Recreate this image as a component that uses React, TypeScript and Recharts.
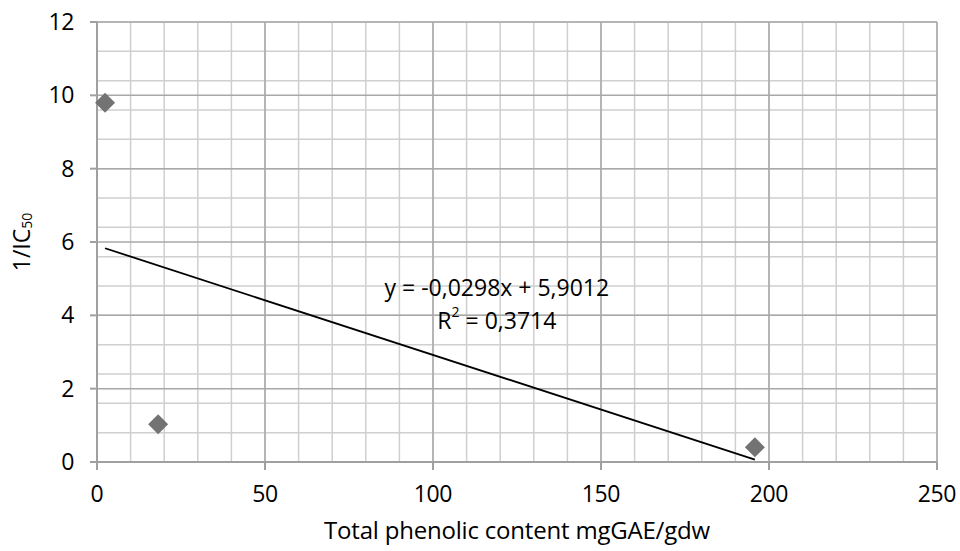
import React from 'react';
import { ScatterChart, Scatter, XAxis, YAxis, CartesianGrid, ReferenceDot, Label } from 'recharts';

const phenolic = [2.4, 18.2, 195.8];
const inverseIC50 = [9.8, 1.03, 0.4];
const xTicks = [0, 50, 100, 150, 200, 250];
const yTicks = [0, 2, 4, 6, 8, 10, 12];
const xMinor = [0, 10, 20, 30, 40, 50, 60, 70, 80, 90, 100, 110, 120, 130, 140, 150, 160, 170, 180, 190, 200, 210, 220, 230, 240, 250];
const yMinor = [0, 0.4, 0.8, 1.2, 1.6, 2, 2.4, 2.8, 3.2, 3.6, 4, 4.4, 4.8, 5.2, 5.6, 6, 6.4, 6.8, 7.2, 7.6, 8, 8.4, 8.8, 9.2, 9.6, 10, 10.4, 10.8, 11.2, 11.6, 12];
const slope = -0.0298;
const intercept = 5.9012;
const equationText = 'y = -0,0298x + 5,9012';
const r2Value = '0,3714';
const labelAnchor = { x: 119, y: 4.35 };

const points = phenolic.map((x, i) => ({ x, y: inverseIC50[i] }));
const xMin = Math.min(...phenolic);
const xMax = Math.max(...phenolic);
const trend = [
  { x: xMin, y: slope * xMin + intercept },
  { x: xMax, y: slope * xMax + intercept },
];

const FONT = '"Open Sans", "Noto Sans", sans-serif';

const Diamond = (props: any) => {
  const { cx, cy } = props;
  const r = 10;
  return <polygon points={`${cx},${cy - r} ${cx + r},${cy} ${cx},${cy + r} ${cx - r},${cy}`} fill="#737373" />;
};

const EqLabel = (props: any) => {
  const vb = props.viewBox || {};
  const cx = vb.cx !== undefined ? vb.cx : vb.x + (vb.width || 0) / 2;
  const cy = vb.cy !== undefined ? vb.cy : vb.y + (vb.height || 0) / 2;
  return (
    <g fontFamily={FONT} fontSize={23} fill="#000">
      <text x={cx} y={cy - 16} textAnchor="middle" dominantBaseline="central">{equationText}</text>
      <text x={cx} y={cy + 17} textAnchor="middle" dominantBaseline="central">
        R<tspan fontSize={14} dy={-9}>2</tspan><tspan dy={9}> = {r2Value}</tspan>
      </text>
    </g>
  );
};

export default function App() {
  return (
    <div style={{ position: 'absolute', left: 0, top: 0, width: 960, height: 551, background: '#fff' }}>
      <ScatterChart width={960} height={551} margin={{ top: 22, right: 23, bottom: 49, left: 37 }}>
        <CartesianGrid
          stroke="#cfcfcf"
          strokeWidth={1.5}
          horizontalValues={yMinor}
          verticalValues={xMinor}
        />
        <CartesianGrid
          stroke="#a8a8a8"
          strokeWidth={1.5}
          horizontalValues={yTicks}
          verticalValues={xTicks}
        />
        <XAxis
          type="number"
          dataKey="x"
          domain={[0, 250]}
          ticks={xTicks}
          height={40}
          axisLine={{ stroke: '#a0a0a0', strokeWidth: 2 }}
          tickLine={{ stroke: '#a0a0a0', strokeWidth: 2 }}
          tickSize={8}
          tick={{ fill: '#000', fontSize: 23, fontFamily: FONT, dy: 14, letterSpacing: -0.4 }}
        >
          <Label
            value="Total phenolic content mgGAE/gdw"
            position="insideBottom"
            offset={-37}
            style={{ fill: '#000', fontSize: 24, fontFamily: FONT, letterSpacing: -0.2 }}
          />
        </XAxis>
        <YAxis
          type="number"
          dataKey="y"
          domain={[0, 12]}
          ticks={yTicks}
          width={60}
          axisLine={{ stroke: '#a0a0a0', strokeWidth: 2 }}
          tickLine={{ stroke: '#a0a0a0', strokeWidth: 2 }}
          tickSize={7}
          tick={{ fill: '#000', fontSize: 23, fontFamily: FONT, dx: -14, letterSpacing: -0.4 }}
        >
          <Label
            position="insideLeft"
            content={(p: any) => {
              const vb = p.viewBox;
              const x = 21;
              const y = vb.y + vb.height / 2;
              return (
                <text x={x} y={y} transform={`rotate(-90 ${x} ${y})`} textAnchor="middle" dominantBaseline="central" fontFamily={FONT} fontSize={23} fill="#000">
                  1/IC<tspan fontSize={14} dy={5}>50</tspan>
                </text>
              );
            }}
          />
        </YAxis>
        <Scatter data={trend} line={{ stroke: '#000', strokeWidth: 1.8 }} shape={() => null} isAnimationActive={false} />
        <Scatter data={points} shape={<Diamond />} isAnimationActive={false} />
        <ReferenceDot x={labelAnchor.x} y={labelAnchor.y} r={0} fill="none" stroke="none" label={<EqLabel />} />
      </ScatterChart>
    </div>
  );
}
